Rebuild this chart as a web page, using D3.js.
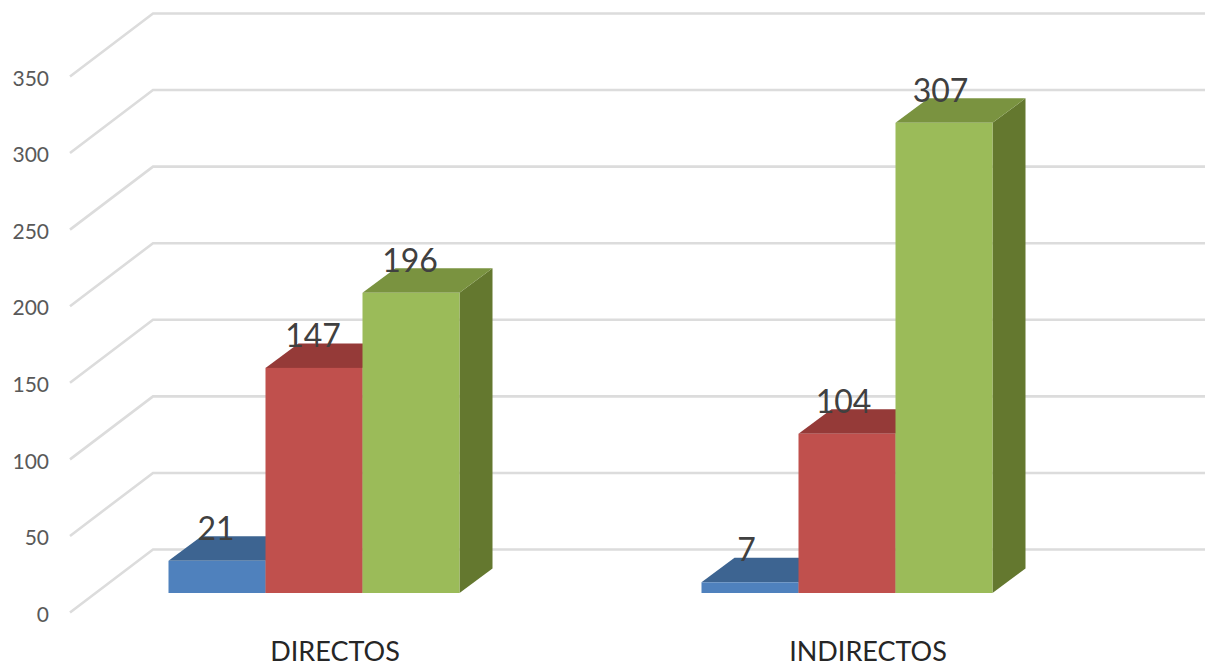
<!DOCTYPE html>
<html>
<head>
<meta charset="utf-8">
<script src="https://cdn.jsdelivr.net/npm/d3@7"></script>
<style>
  html, body { margin: 0; padding: 0; background: #fff; overflow: hidden; }
  text { font-family: Lato, "Open Sans", sans-serif; }
</style>
</head>
<body>
<svg id="chart"></svg>
<script>
// Data
const categories = ["DIRECTOS", "INDIRECTOS"];
const seriesNames = ["A", "B", "C"];
const seriesA = [21, 7];
const seriesB = [147, 104];
const seriesC = [196, 307];
const yTicks = [0, 50, 100, 150, 200, 250, 300, 350];
const frontColors = ["#4f81bd", "#c0504d", "#9bbb59"];
const topColors = ["#3d6491", "#953a38", "#7a9340"];
const sideColors = ["#355880", "#843331", "#64782f"];

const width = 1205;
const height = 666;

// Oblique offset of the back wall and of the bars' depth
const wallDx = 83, wallDy = -63;
const barDx = 33, barDy = -24.5;

const svg = d3.select("#chart")
  .attr("width", width)
  .attr("height", height);

// Scales: floor front edge
const x0 = d3.scaleBand().domain(categories).range([70, 1136]);
const x1 = d3.scaleBand().domain(seriesNames).range([98.5, 389.5]);
const y = d3.scaleLinear().domain([0, 350]).range([612.5, 76.5]);
const barBase = 593;
const barH = v => y(0) - y(v);

// Gridlines, left wall then back wall
svg.append("g").selectAll("path")
  .data(yTicks)
  .enter()
  .append("path")
  .attr("d", d => {
    const p = d3.path();
    p.moveTo(x0.range()[0], y(d));
    p.lineTo(x0.range()[0] + wallDx, y(d) + wallDy);
    p.lineTo(x0.range()[1] + wallDx, y(d) + wallDy);
    return p.toString();
  })
  .attr("fill", "none")
  .attr("stroke", "#dcdcdc")
  .attr("stroke-width", 2.6);

// Value axis
const yAxis = svg.append("g")
  .attr("transform", "translate(49,2)")
  .call(d3.axisLeft(y).tickValues(yTicks).tickSize(0).tickPadding(0));
yAxis.select(".domain").remove();
yAxis.selectAll("text")
  .attr("font-size", 21)
  .attr("fill", "#595959");

// Category axis
const xAxis = svg.append("g")
  .attr("transform", "translate(-1.5,642)")
  .call(d3.axisBottom(x0).tickSize(0).tickPadding(0));
xAxis.select(".domain").remove();
xAxis.selectAll("text")
  .attr("font-size", 27)
  .attr("fill", "#262626");

// Bars
const allSeries = [seriesA, seriesB, seriesC];
const rows = [];
categories.forEach((c, i) => {
  seriesNames.forEach((s, j) => {
    rows.push({ cat: c, s: s, j: j, value: allSeries[j][i] });
  });
});

const bars = svg.append("g").selectAll("g")
  .data(rows)
  .enter()
  .append("g")
  .attr("transform", d => `translate(${x0(d.cat) + x1(d.s)},${barBase})`);

const w = x1.bandwidth();

bars.append("path") // side
  .attr("d", d => `M${w},0L${w + barDx},${barDy}L${w + barDx},${barDy - barH(d.value)}L${w},${-barH(d.value)}Z`)
  .attr("fill", d => sideColors[d.j]);

bars.append("path") // top
  .attr("d", d => `M0,${-barH(d.value)}L${barDx},${barDy - barH(d.value)}L${w + barDx},${barDy - barH(d.value)}L${w},${-barH(d.value)}Z`)
  .attr("fill", d => topColors[d.j]);

bars.append("rect") // front
  .attr("y", d => -barH(d.value))
  .attr("width", w)
  .attr("height", d => barH(d.value))
  .attr("fill", d => frontColors[d.j]);

// Data labels on top of everything
const labelShift = { DIRECTOS: -1, INDIRECTOS: -3.5 };
svg.append("g").selectAll("text")
  .data(rows)
  .enter()
  .append("text")
  .attr("x", d => x0(d.cat) + x1(d.s) + w / 2 + labelShift[d.cat])
  .attr("y", d => barBase - barH(d.value) - 21)
  .attr("text-anchor", "middle")
  .attr("font-size", 32)
  .attr("fill", "#404040")
  .text(d => d.value);
</script>
</body>
</html>
